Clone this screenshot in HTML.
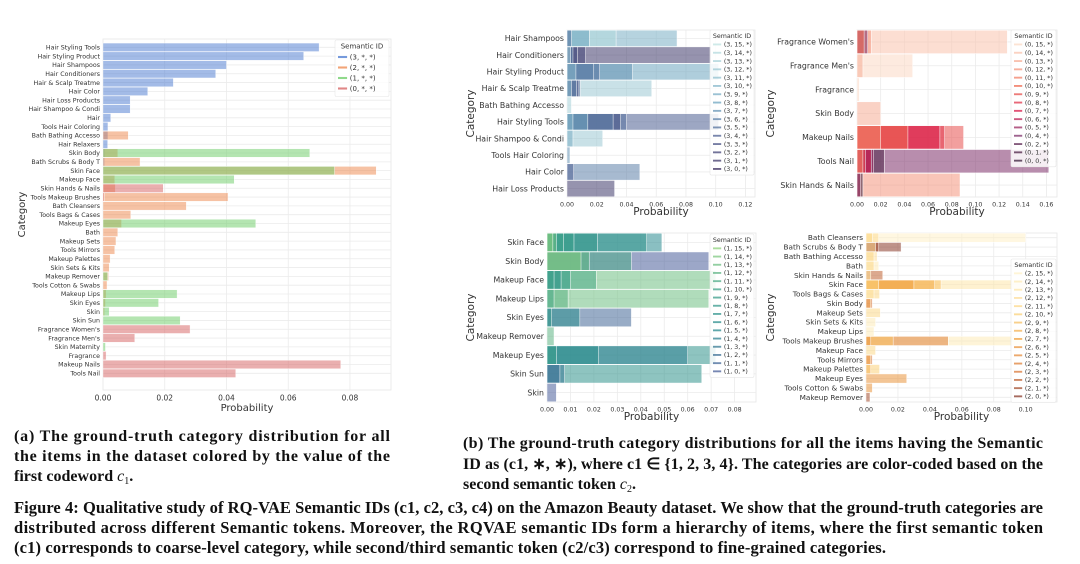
<!DOCTYPE html>
<html><head><meta charset="utf-8"><style>
html,body{margin:0;padding:0;background:#fff;}
svg{display:block;}
.cap{font-family:"Liberation Serif",serif;font-weight:bold;fill:#111;}
.lab{font-family:"DejaVu Sans","Liberation Sans",sans-serif;fill:#333;}
</style></head><body>
<svg id="fig" width="1080" height="564" viewBox="0 0 1080 564" xmlns="http://www.w3.org/2000/svg">
<g id="charts"></g>
<g font-size="16">
<text class="cap" x="14" y="441" textLength="376" lengthAdjust="spacing">(a) The ground-truth category distribution for all</text>
<text class="cap" x="14" y="461" textLength="376" lengthAdjust="spacing">the items in the dataset colored by the value of the</text>
<text class="cap" x="14" y="481">first codeword <tspan font-style="italic" font-weight="normal">c</tspan><tspan font-size="10" dy="3" font-weight="normal">1</tspan><tspan dy="-3">.</tspan></text>
</g>
<g font-size="16">
<text class="cap" x="463" y="448" textLength="580" lengthAdjust="spacing">(b) The ground-truth category distributions for all the items having the Semantic</text>
<text class="cap" x="463" y="469" textLength="580" lengthAdjust="spacing">ID as (c1, ∗, ∗), where c1 ∈ {1, 2, 3, 4}. The categories are color-coded based on the</text>
<text class="cap" x="463" y="489">second semantic token <tspan font-style="italic" font-weight="normal">c</tspan><tspan font-size="10" dy="3" font-weight="normal">2</tspan><tspan dy="-3">.</tspan></text>
</g>
<g font-size="16.5">
<text class="cap" x="14" y="513" textLength="1029" lengthAdjust="spacing">Figure 4: Qualitative study of RQ-VAE Semantic IDs (c1, c2, c3, c4) on the Amazon Beauty dataset. We show that the ground-truth categories are</text>
<text class="cap" x="14" y="533" textLength="1029" lengthAdjust="spacing">distributed across different Semantic tokens. Moreover, the RQVAE semantic IDs form a hierarchy of items, where the first semantic token</text>
<text class="cap" x="14" y="553" textLength="872" lengthAdjust="spacing">(c1) corresponds to coarse-level category, while second/third semantic token (c2/c3) correspond to fine-grained categories.</text>
</g>
</svg>
<script>
// ---------- Data: chart (a) ----------
const catsA = ["Hair Styling Tools","Hair Styling Product","Hair Shampoos","Hair Conditioners","Hair & Scalp Treatme","Hair Color","Hair Loss Products","Hair Shampoo & Condi","Hair","Tools Hair Coloring","Bath Bathing Accesso","Hair Relaxers","Skin Body","Bath Scrubs & Body T","Skin Face","Makeup Face","Skin Hands & Nails","Tools Makeup Brushes","Bath Cleansers","Tools Bags & Cases","Makeup Eyes","Bath","Makeup Sets","Tools Mirrors","Makeup Palettes","Skin Sets & Kits","Makeup Remover","Tools Cotton & Swabs","Makeup Lips","Skin Eyes","Skin","Skin Sun","Fragrance Women's","Fragrance Men's","Skin Maternity","Fragrance","Makeup Nails","Tools Nail"];
const seriesA3 = [0.070,0.065,0.040,0.0365,0.0228,0.0145,0.0088,0.0088,0.0025,0.0016,0.0016,0.0015,0.0005,0.0005,0.0003,0,0,0,0,0,0,0,0,0,0,0,0,0,0,0,0,0,0,0,0,0,0,0];
const seriesA2 = [0,0,0,0,0,0,0,0,0,0,0.0082,0,0.0048,0.012,0.0885,0.0038,0.004,0.0405,0.027,0.009,0.006,0.0048,0.0042,0.0038,0.0023,0.002,0.0018,0.0013,0.001,0.0008,0.0005,0,0,0,0,0,0,0];
const seriesA1 = [0,0,0,0,0,0,0,0,0,0,0,0,0.067,0,0.075,0.0425,0,0,0,0,0.0495,0,0,0,0,0,0.0015,0,0.024,0.018,0.002,0.025,0,0,0.0008,0,0,0];
const seriesA0 = [0,0,0,0,0,0,0,0,0,0,0,0,0,0,0,0,0.0195,0.0004,0,0,0,0,0,0,0,0,0,0,0,0,0,0,0.0282,0.0103,0,0.001,0.077,0.043];
const ticksA = [0,0.02,0.04,0.06,0.08];
const legendA = ["(3, *, *)","(2, *, *)","(1, *, *)","(0, *, *)"];

// ---------- Data: chart (b) panel c1=3 ----------
const cats3 = ["Hair Shampoos","Hair Conditioners","Hair Styling Product","Hair & Scalp Treatme","Bath Bathing Accesso","Hair Styling Tools","Hair Shampoo & Condi","Tools Hair Coloring","Hair Color","Hair Loss Products"];
const segs3 = [[[9,0.074],[14,0.033],[8,0.015],[5,0.003]],[[1,0.097],[2,0.0125],[3,0.007],[6,0.004],[12,0.0025]],[[8,0.102],[7,0.044],[5,0.022],[6,0.018],[10,0.006]],[[12,0.057],[4,0.009],[3,0.008],[6,0.0065],[10,0.003]],[[13,0.003]],[[4,0.102],[5,0.040],[3,0.036],[6,0.031],[8,0.014],[10,0.004]],[[12,0.024],[9,0.004]],[[7,0.002]],[[6,0.049],[4,0.0045]],[[1,0.032]]];
const ticks3 = [0,0.02,0.04,0.06,0.08,0.10,0.12];
const tokens3 = [15,14,13,12,11,10,9,8,7,6,5,4,3,2,1,0];

// ---------- panel c1=0 ----------
const cats0 = ["Fragrance Women's","Fragrance Men's","Fragrance","Skin Body","Makeup Nails","Tools Nail","Skin Hands & Nails"];
const segs0 = [[[14,0.127],[12,0.012],[4,0.009],[10,0.006]],[[15,0.047],[13,0.005]],[[15,0.002]],[[13,0.020]],[[9,0.090],[8,0.074],[7,0.070],[10,0.043],[11,0.020]],[[4,0.162],[1,0.023],[5,0.014],[7,0.012],[9,0.007],[11,0.005]],[[12,0.087],[0,0.005],[5,0.003]]];
const ticks0 = [0,0.02,0.04,0.06,0.08,0.10,0.12,0.14,0.16];
const tokens0 = [15,14,13,12,11,10,9,8,7,6,5,4,2,1,0];

// ---------- panel c1=1 ----------
const cats1 = ["Skin Face","Skin Body","Makeup Face","Makeup Lips","Skin Eyes","Makeup Remover","Makeup Eyes","Skin Sun","Skin"];
const segs1 = [[[5,0.049],[7,0.0425],[8,0.0215],[9,0.0115],[10,0.007],[13,0.004],[14,0.0025]],[[0,0.069],[11,0.036],[12,0.018],[14,0.0145]],[[13,0.072],[11,0.021],[9,0.010],[8,0.006],[10,0.003]],[[13,0.069],[12,0.009],[11,0.003]],[[1,0.036],[6,0.014],[8,0.002]],[[12,0.003]],[[7,0.072],[4,0.060],[6,0.022],[9,0.004]],[[7,0.066],[3,0.0075],[2,0.0055]],[[0,0.004]]];
const ticks1 = [0,0.01,0.02,0.03,0.04,0.05,0.06,0.07,0.08];
const tokens1 = [15,14,13,12,11,10,9,8,7,6,5,4,3,2,1,0];

// ---------- panel c1=2 ----------
const cats2 = ["Bath Cleansers","Bath Scrubs & Body T","Bath Bathing Accesso","Bath","Skin Hands & Nails","Skin Face","Tools Bags & Cases","Skin Body","Makeup Sets","Skin Sets & Kits","Makeup Lips","Tools Makeup Brushes","Makeup Face","Tools Mirrors","Makeup Palettes","Makeup Eyes","Tools Cotton & Swabs","Makeup Remover"];
const segs2 = [[[15,0.100],[12,0.008],[11,0.004]],[[0,0.022],[1,0.008],[12,0.006]],[[12,0.007],[11,0.005]],[[14,0.008],[11,0.005]],[[2,0.0105],[11,0.003]],[[13,0.100],[9,0.047],[8,0.043],[7,0.030],[10,0.008]],[[11,0.0085],[12,0.005]],[[3,0.004],[6,0.003]],[[11,0.009]],[[14,0.006]],[[14,0.005]],[[14,0.100],[4,0.0515],[9,0.017],[6,0.003]],[[11,0.006]],[[3,0.004],[7,0.003]],[[10,0.0085],[8,0.003]],[[6,0.0255]],[[6,0.004]],[[1,0.0025]]];
const ticks2 = [0,0.02,0.04,0.06,0.08,0.10];
const tokens2 = [15,14,13,12,11,10,9,8,7,6,5,4,3,2,1,0];

const NS="http://www.w3.org/2000/svg";
const root=document.getElementById('charts');
function el(tag,attrs,parent,txt){const e=document.createElementNS(NS,tag);for(const k in attrs)e.setAttribute(k,attrs[k]);if(txt!==undefined)e.textContent=txt;(parent||root).appendChild(e);return e;}
function hex(c){return [1,3,5].map(i=>parseInt(c.substr(i,2),16));}
function ramp(stops){return t=>{for(let i=0;i<stops.length-1;i++){const [a,ca]=stops[i],[b,cb]=stops[i+1];if(t>=a&&t<=b){const f=(t-a)/(b-a||1);const A=hex(ca),B=hex(cb);return 'rgb('+A.map((v,j)=>Math.round(v+(B[j]-v)*f)).join(',')+')';}}return stops[stops.length-1][1];};}

function axes(g,cfg,cats,ticks){
  const {x0,x1,y0,y1,scale,fsCat,fsTick}=cfg;
  const r0=cfg.r0!==undefined?cfg.r0:y0, r1=cfg.r1!==undefined?cfg.r1:y1;
  const xs=v=>x0+v*scale;
  const n=cats.length, step=(r1-r0)/n;
  const ys=i=>r0+step*(i+0.5);
  el('rect',{x:x0,y:y0,width:x1-x0,height:y1-y0,fill:'#fff',stroke:'#e6e6e6','stroke-width':0.8},g);
  ticks.forEach(t=>{el('line',{x1:xs(t),x2:xs(t),y1:y0,y2:y1,stroke:'#ebebeb','stroke-width':0.8},g);
    const tl=el('text',{x:xs(t),y:y1+fsTick+3,'font-size':fsTick,'text-anchor':'middle',class:'lab'},g,t.toFixed(2));
    
    });
  cats.forEach((c,i)=>{el('line',{x1:x0,x2:x1,y1:ys(i),y2:ys(i),stroke:'#ebebeb','stroke-width':0.8},g);
    const cl=el('text',{x:x0-3,y:ys(i)+fsCat*0.35,'font-size':fsCat,'text-anchor':'end',class:'lab'},g,c);
    
    });
  const xt=el('text',{x:(x0+x1)/2,y:cfg.xtY,'font-size':cfg.fsT,'text-anchor':'middle',class:'lab'},g,'Probability');
  
  
  const yt=el('text',{x:0,y:0,'font-size':cfg.fsT,'text-anchor':'middle',class:'lab',transform:`translate(${cfg.ytX},${(y0+y1)/2}) rotate(-90)`},g,'Category');
  
  
  return {xs,ys,step};
}
function legend(g,x,y,w,title,labels,colors,fs,sp){
  const box=el('rect',{x:x,y:y,width:w,height:sp*(labels.length+1)+4,fill:'#fff','fill-opacity':0.85,stroke:'#e6e6e6','stroke-width':0.6,rx:1.5},g);
  
  
  el('text',{x:x+w/2,y:y+fs+1.5,'font-size':fs,'text-anchor':'middle',class:'lab'},g,title);
  labels.forEach((l,i)=>{const yy=y+sp*(i+1)+fs*0.5+3;
    const sw=el('line',{x1:x+3,x2:x+3+fs*1.3,y1:yy,y2:yy,stroke:colors[i],'stroke-width':fs*0.3,'stroke-opacity':0.75},g);
    
    
    const t=el('text',{x:x+5+fs*1.4,y:yy+fs*0.35,'font-size':fs,class:'lab'},g,l);
    
    });
}

// ----- chart (a) -----
(function(){
  const g=el('g',{});
  
  
  const cfg={x0:103,x1:391,y0:39,y1:390,r0:42.9,r1:377.7,scale:3087,fsCat:6.3,fsTick:7.5,fsT:10,xtY:411,ytX:25};
  const ax=axes(g,cfg,catsA,ticksA);
  const cols=['#4878d0','#ee854a','#6acc64','#d65f5f'];
  [seriesA3,seriesA2,seriesA1,seriesA0].forEach((s,k)=>{
    s.forEach((v,i)=>{if(v<=0)return;
      const r=el('rect',{x:ax.xs(0),y:ax.ys(i)-ax.step*0.48,width:ax.xs(v)-ax.xs(0),height:ax.step*0.96,fill:cols[k],'fill-opacity':0.5,stroke:'#fff','stroke-width':0.4},g);
      
      });
  });
  legend(g,335,40,54,'Semantic ID',legendA,cols,7,10.5);
})();

function panel(name,cfg,cats,segs,ticks,tokens,colorFn,legCfg,group){
  const g=el('g',{});
  
  
  const ax=axes(g,cfg,cats,ticks);
  segs.forEach((row,i)=>{
    row.slice().sort((a,b)=>b[1]-a[1]).forEach(([tok,v])=>{
      const r=el('rect',{x:ax.xs(0),y:ax.ys(i)-ax.step*0.49,width:ax.xs(v)-ax.xs(0),height:ax.step*0.98,fill:colorFn(tok),'fill-opacity':0.55,stroke:'#fff','stroke-width':0.5},g);
      
      
    });
  });
  legend(g,legCfg.x,legCfg.y,legCfg.w,'Semantic ID',tokens.map(t=>`(${group}, ${t}, *)`),tokens.map(colorFn),6.3,legCfg.sp);
}
const c3=ramp([[0,'#3b2d5e'],[4,'#4d5f92'],[8,'#6ea5c0'],[15,'#bfe3e2']]);
const c0=ramp([[0,'#3a1d3a'],[4,'#7e2f6a'],[7,'#d81b4a'],[10,'#ef6a50'],[15,'#fbd9c4']]);
const c1=ramp([[0,'#4a5f9a'],[5,'#2a8a8f'],[10,'#3fa38a'],[15,'#8fd17e']]);
const c2=ramp([[0,'#8a3a2a'],[3,'#d97838'],[7,'#f0a040'],[10,'#fbd27a'],[15,'#fff1c8']]);

panel('chart-b-c1-3',{x0:567,x1:755,y0:30,y1:197,scale:1487,fsCat:7.8,fsTick:6.3,fsT:10.5,xtY:215,ytX:474},cats3,segs3,ticks3,tokens3,c3,{x:710,y:30,w:44,sp:8.3},3);
panel('chart-b-c1-0',{x0:857,x1:1057,y0:30,y1:197,scale:1184,fsCat:7.8,fsTick:6.3,fsT:10.5,xtY:215,ytX:774},cats0,segs0,ticks0,tokens0,c0,{x:1011,y:30,w:45,sp:8.3},0);
panel('chart-b-c1-1',{x0:547,x1:756,y0:233,y1:402,scale:2345,fsCat:7.8,fsTick:6.3,fsT:10.5,xtY:420,ytX:474},cats1,segs1,ticks1,tokens1,c1,{x:710,y:234,w:44,sp:8.2},1);
panel('chart-b-c1-2',{x0:866,x1:1057,y0:233,y1:402,scale:1597,fsCat:7.3,fsTick:6.3,fsT:10.5,xtY:420,ytX:774},cats2,segs2,ticks2,tokens2,c2,{x:1011,y:259,w:45,sp:8.2},2);
</script>
</body></html>
